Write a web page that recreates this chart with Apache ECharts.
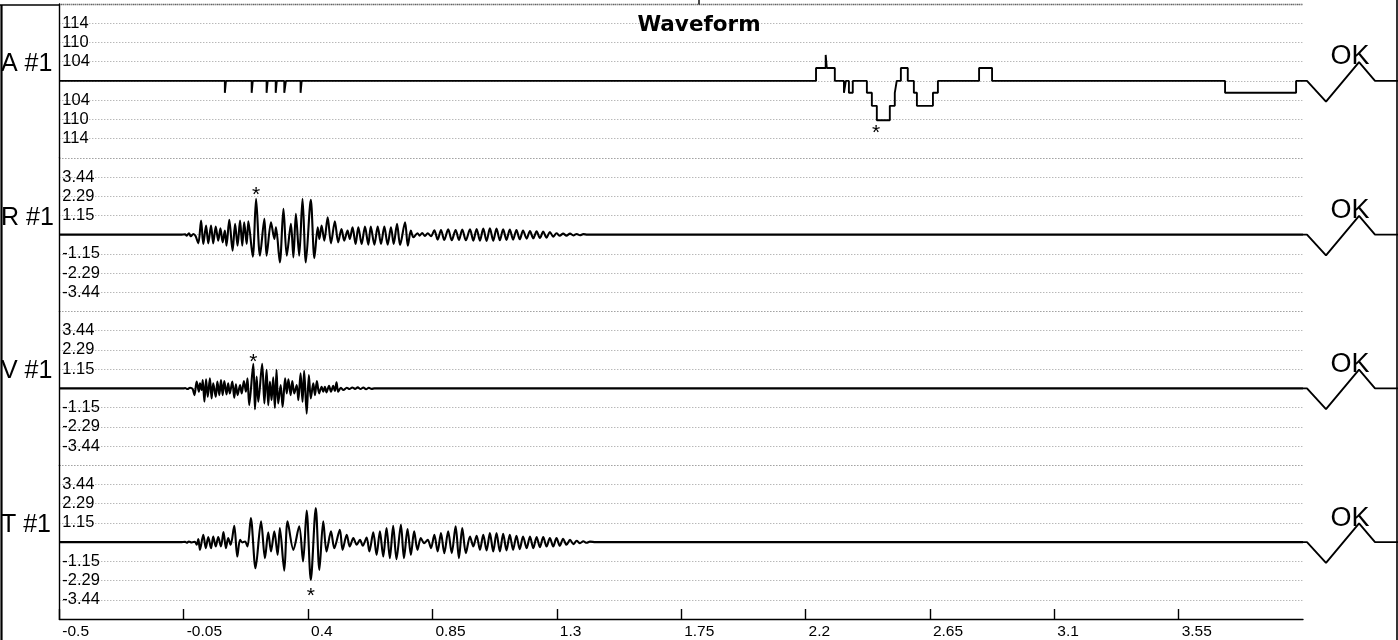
<!DOCTYPE html>
<html><head><meta charset="utf-8">
<script src="https://cdn.jsdelivr.net/npm/echarts@6/dist/echarts.min.js"></script>
<style>html,body{margin:0;padding:0;background:#fff}#c{width:1398px;height:640px}</style>
</head><body><div id="c"></div>
<script>
// ---------- data ----------
const channelNames = ['A #1', 'R #1', 'V #1', 'T #1'];
const statusText = ['OK', 'OK', 'OK', 'OK'];
const aTickLabels = ['', '114', '110', '104', '', '104', '110', '114', ''];
const rvtTickLabels = ['', '3.44', '2.29', '1.15', '', '-1.15', '-2.29', '-3.44', ''];
const rvtUnit = 1.147;
const xTickValues = [-0.5, -0.05, 0.4, 0.85, 1.3, 1.75, 2.2, 2.65, 3.1, 3.55];
const xTickLabels = ['-0.5', '-0.05', '0.4', '0.85', '1.3', '1.75', '2.2', '2.65', '3.1', '3.55'];

// A channel: [time, level in grid steps] (value held until next point)
const aLevels = [
  [-0.5,0],[0.099,-0.62],[0.103,0],[0.196,-0.62],[0.200,0],[0.250,-0.62],[0.254,0],[0.283,-0.62],[0.287,0],
  [0.314,-0.62],[0.320,0],[0.373,-0.62],[0.377,0],
  [2.238,0.67],[2.273,1.35],[2.277,0.67],[2.306,0],[2.339,-0.62],[2.346,0],[2.357,-0.62],[2.371,0],
  [2.422,-0.62],[2.440,-1.3],[2.458,-2.05],[2.505,-1.3],[2.523,-0.62],[2.530,0],[2.545,0.67],[2.570,0],
  [2.592,-0.62],[2.603,-1.3],[2.661,-0.62],[2.679,0],[2.828,0.67],[2.875,0],[3.718,-0.62],[3.975,0],[4.0,0]
];

// R channel: [time, amplitude]
const rWave = [
  [-0.5,0],[-0.06,0],[-0.045,0.02],[-0.039,-0.06],[-0.031,0.08],[-0.024,-0.1],[-0.015,0.04],[-0.007,-0.08],
  [0.003,-0.52],[0.013,0.84],[0.021,-0.56],[0.031,0.54],[0.039,-0.52],[0.049,0.54],[0.057,-0.52],[0.066,0.48],
  [0.075,-0.36],[0.083,0.38],[0.091,-0.46],[0.099,0.24],[0.105,-0.66],[0.115,0.88],[0.127,-0.96],[0.136,0.64],
  [0.145,-0.66],[0.154,0.84],[0.162,-0.66],[0.169,0.74],[0.178,-0.56],[0.184,0.80],[0.200,-1.32],[0.212,2.14],
  [0.226,-1.26],[0.242,0.94],[0.250,-1.26],[0.266,0.74],[0.278,-0.26],[0.284,0.44],[0.298,-1.66],[0.311,1.54],
  [0.323,-1.26],[0.338,0.64],[0.347,-1.36],[0.356,1.24],[0.368,-1.26],[0.380,2.14],[0.392,-1.66],[0.410,2.08],
  [0.423,-1.40],[0.435,0.44],[0.441,-0.26],[0.449,0.54],[0.459,-0.36],[0.471,1.04],[0.483,-0.52],[0.497,0.80],
  [0.509,-0.46],[0.521,0.34],[0.531,-0.36],[0.543,0.24],[0.551,-0.26],[0.561,0.44],[0.572,-0.56],[0.582,0.44],
  [0.594,-0.56],[0.606,0.48],[0.618,-0.60],[0.627,0.48],[0.640,-0.60],[0.652,0.48],[0.664,-0.56],[0.676,0.48],
  [0.688,-0.60],[0.700,0.44],[0.710,-0.56],[0.722,0.64],[0.733,-0.62],[0.751,0.74],[0.761,-0.66],[0.772,0.24],
  [0.781,-0.16],[0.796,0.08],[0.804,-0.06],[0.813,0.1],[0.823,-0.08],[0.833,0.08],[0.845,-0.1],[0.857,0.26],
  [0.869,-0.3],[0.881,0.28],[0.893,-0.32],[0.907,0.32],[0.920,-0.34],[0.934,0.28],[0.946,-0.32],[0.958,0.3],
  [0.971,-0.34],[0.986,0.32],[0.998,-0.36],[1.010,0.34],[1.022,-0.36],[1.034,0.36],[1.046,-0.38],[1.058,0.38],
  [1.070,-0.36],[1.082,0.36],[1.094,-0.34],[1.106,0.32],[1.118,-0.32],[1.130,0.3],[1.142,-0.3],[1.154,0.28],
  [1.166,-0.28],[1.178,0.24],[1.191,-0.24],[1.203,0.22],[1.215,-0.22],[1.227,0.2],[1.239,-0.2],[1.251,0.18],
  [1.263,-0.18],[1.275,0.16],[1.287,-0.12],[1.299,0.08],[1.311,-0.06],[1.323,0.06],[1.335,-0.06],[1.348,0.06],
  [1.360,-0.05],[1.372,0.04],[1.384,-0.04],[1.396,0.03],[1.41,0],[4.0,0]
];

// V channel: [time, amplitude]
const vWave = [
  [-0.5,0],[-0.05,0],[-0.045,0.02],[-0.036,-0.04],[-0.027,0.04],[-0.018,-0.02],
  [-0.011,-0.40],[-0.003,0.40],[0.005,-0.20],[0.009,0.30],[0.015,-0.10],[0.019,0.50],[0.025,-0.80],[0.031,0.54],
  [0.037,-0.50],[0.045,0.60],[0.051,-0.60],[0.057,0.30],[0.066,-0.50],[0.072,0.40],[0.079,-0.40],[0.085,0.50],
  [0.091,-0.40],[0.097,0.44],[0.105,-0.36],[0.111,0.30],[0.117,-0.30],[0.126,0.40],[0.133,-0.56],[0.139,0.24],
  [0.145,-0.40],[0.154,0.20],[0.160,-0.30],[0.168,0.44],[0.175,-0.20],[0.181,0.60],[0.187,-1.00],[0.202,1.47],
  [0.208,-1.25],[0.214,0.70],[0.220,-0.80],[0.234,1.47],[0.242,-0.90],[0.250,1.11],[0.256,-1.00],[0.262,0.40],
  [0.268,-0.70],[0.274,0.66],[0.280,-1.17],[0.286,1.11],[0.292,-0.90],[0.301,0.20],[0.308,-1.11],[0.317,0.60],
  [0.323,-0.30],[0.329,0.54],[0.337,-0.40],[0.343,0.44],[0.350,-0.30],[0.359,0.20],[0.365,-0.70],[0.373,0.90],
  [0.380,-0.80],[0.386,1.05],[0.395,-1.51],[0.403,0.80],[0.410,-0.60],[0.419,0.30],[0.425,-0.40],[0.432,0.44],
  [0.440,-0.30],[0.449,0.10],[0.455,-0.20],[0.461,0.10],[0.467,-0.24],[0.476,0.16],[0.483,-0.20],[0.491,0.16],
  [0.497,-0.16],[0.503,0.36],[0.509,-0.20],[0.519,0.04],[0.528,-0.10],
  [0.54,0.04],[0.55,-0.04],[0.56,0.05],[0.57,-0.03],[0.58,0.06],[0.59,-0.04],[0.60,0.05],[0.61,-0.05],
  [0.62,0.04],[0.63,-0.03],[0.64,0],[4.0,0]
];

// T channel: [time, amplitude]
const tWave = [
  [-0.5,0],[-0.06,0],[-0.045,0.02],[-0.039,-0.04],[-0.031,0.04],[-0.021,-0.02],[-0.009,0.02],
  [-0.003,-0.16],[0.003,0.18],[0.009,-0.46],[0.021,0.44],[0.030,-0.36],[0.039,0.30],[0.049,-0.36],[0.057,0.34],
  [0.066,-0.26],[0.075,0.30],[0.085,-0.26],[0.094,0.60],[0.103,-0.36],[0.111,0.24],[0.120,-0.16],[0.133,0.98],
  [0.144,-0.86],[0.154,0.14],[0.162,-0.02],[0.172,0.04],[0.181,-0.26],[0.193,1.44],[0.210,-1.56],[0.230,1.24],
  [0.244,-0.96],[0.256,0.58],[0.266,-0.56],[0.278,0.64],[0.290,-0.76],[0.298,0.84],[0.314,-1.70],[0.326,1.24],
  [0.347,-0.46],[0.368,0.94],[0.382,-1.16],[0.395,1.88],[0.410,-2.26],[0.428,2.04],[0.441,-1.66],[0.455,1.24],
  [0.467,-0.56],[0.483,0.64],[0.495,-0.36],[0.515,0.74],[0.525,-0.46],[0.540,0.44],[0.551,-0.26],[0.564,0.24],
  [0.576,-0.16],[0.588,0.14],[0.598,-0.22],[0.612,0.28],[0.622,-0.56],[0.636,0.58],[0.648,-0.76],[0.660,0.64],
  [0.672,-0.86],[0.684,0.84],[0.696,-0.96],[0.708,0.98],[0.720,-1.02],[0.736,1.04],[0.747,-0.96],[0.760,0.78],
  [0.772,-0.76],[0.784,0.64],[0.796,-0.46],[0.808,0.24],[0.820,-0.06],[0.833,0.14],[0.845,-0.36],[0.857,0.44],
  [0.869,-0.56],[0.881,0.54],[0.893,-0.66],[0.907,0.64],[0.920,-0.66],[0.934,0.94],[0.946,-0.96],[0.958,0.84],
  [0.971,-0.66],[0.986,0.34],[0.998,-0.26],[1.010,0.38],[1.022,-0.46],[1.034,0.44],[1.046,-0.50],[1.058,0.54],
  [1.070,-0.56],[1.082,0.54],[1.094,-0.56],[1.106,0.50],[1.118,-0.50],[1.130,0.44],[1.142,-0.46],[1.154,0.38],
  [1.166,-0.42],[1.178,0.34],[1.191,-0.36],[1.203,0.34],[1.215,-0.36],[1.227,0.30],[1.239,-0.30],[1.251,0.30],
  [1.263,-0.26],[1.275,0.24],[1.287,-0.26],[1.299,0.24],[1.311,-0.22],[1.323,0.20],[1.335,-0.16],[1.348,0.14],
  [1.360,-0.12],[1.372,0.08],[1.384,-0.06],[1.396,0.05],[1.408,-0.04],[1.42,0.03],[1.44,0],[4.0,0]
];

// status trace drawn at the right of each channel: [fraction of box, level in grid steps]
const checkX = [0, 0.042, 0.242, 0.59, 0.758, 1];
const checkY = [0, 0, -1.08, 0.97, 0, 0];

// asterisk marks (peak of each channel)
const peakMarks = [[2.455, -2.05], [0.212, 2.14], [0.202, 1.47], [0.410, -2.26]];
const peakSide = ['bottom', 'top', 'top', 'bottom'];

// ---------- layout ----------
const W = 1398, L = 59.3, PR = 1303, TOP = 4, CH = 153.75;
const FONT = 'Liberation Sans, Arial, Helvetica, sans-serif';
const waves = [aLevels, rWave, vWave, tWave];
const units = [1, rvtUnit, rvtUnit, rvtUnit];
const tickLabelSets = [aTickLabels, rvtTickLabels, rvtTickLabels, rvtTickLabels];

const grid = [], xAxis = [], yAxis = [], series = [], graphic = [];
for (let i = 0; i < 4; i++) {
  grid.push({ left: L, width: PR - L, top: TOP + i * CH, height: CH });
}
for (let i = 0; i < 4; i++) {
  grid.push({ left: PR, width: W - PR, top: TOP + i * CH, height: CH });
}
for (let i = 0; i < 4; i++) {
  const bottom = i === 3;
  xAxis.push({
    type: 'value', gridIndex: i, min: -0.5, max: 4.0, interval: 0.45,
    show: bottom,
    axisLine: { show: bottom, onZero: false, lineStyle: { color: '#000', width: 1.4 } },
    axisTick: { show: bottom, inside: true, length: 10, customValues: xTickValues, lineStyle: { color: '#000', width: 1.4 } },
    axisLabel: {
      show: bottom, customValues: xTickValues, align: 'left', padding: [0, 0, 0, 3], margin: 5,
      fontSize: 15.5, fontFamily: FONT, color: '#000',
      formatter: v => { const k = xTickValues.findIndex(t => Math.abs(t - v) < 1e-6); return k >= 0 ? xTickLabels[k] : ''; }
    },
    splitLine: { show: false }
  });
}
for (let i = 0; i < 4; i++) {
  xAxis.push({ type: 'value', gridIndex: 4 + i, min: 0, max: 1, show: false });
}
for (let i = 0; i < 4; i++) {
  const u = units[i], labs = tickLabelSets[i];
  yAxis.push({
    type: 'value', gridIndex: i, min: -4 * u, max: 4 * u, interval: u,
    axisLine: { show: true, onZero: false, lineStyle: { color: '#000', width: 1.4 } },
    axisTick: { show: false },
    axisLabel: {
      inside: true, margin: 3, fontSize: 16.5, fontFamily: FONT, color: '#000',
      formatter: v => { const k = 4 - Math.round(v / u); return labs[k] || ''; }
    },
    splitLine: { show: true, lineStyle: { color: '#9a9a9a', type: [1, 2], width: 1 } }
  });
}
for (let i = 0; i < 4; i++) {
  yAxis.push({ type: 'value', gridIndex: 4 + i, min: -4, max: 4, show: false });
}

for (let i = 0; i < 4; i++) {
  series.push({
    type: 'line', xAxisIndex: i, yAxisIndex: i, data: waves[i],
    step: i === 0 ? 'end' : false, smooth: i === 0 ? false : 0.3, showSymbol: false, silent: true,
    lineStyle: { color: '#000', width: i === 0 ? 1.9 : 2.1 }
  });
  series.push({
    type: 'line', xAxisIndex: 4 + i, yAxisIndex: 4 + i,
    data: checkX.map((x, k) => [x, checkY[k]]), showSymbol: false, silent: true,
    lineStyle: { color: '#000', width: 1.9 }
  });
  series.push({
    type: 'scatter', xAxisIndex: 4 + i, yAxisIndex: 4 + i, data: [[0.495, 1.25]],
    symbolSize: 1, itemStyle: { color: 'rgba(0,0,0,0)', opacity: 1 }, silent: true, z: 1,
    label: { show: true, position: 'inside', formatter: statusText[i], fontSize: 27, fontFamily: FONT, color: '#000', opacity: 1, textBorderWidth: 0 }
  });
  series.push({
    type: 'scatter', xAxisIndex: i, yAxisIndex: i, data: [peakMarks[i]],
    symbolSize: 1, itemStyle: { color: 'rgba(0,0,0,0)', opacity: 1 }, silent: true,
    label: {
      show: true, position: 'inside', formatter: '*', fontSize: 21, fontFamily: FONT, color: '#000', opacity: 1, textBorderWidth: 0,
      offset: [0, peakSide[i] === 'top' ? (i === 2 ? -2 : -4) : (i === 0 ? 13 : 16)]
    }
  });
}

for (let i = 0; i < 4; i++) {
  graphic.push({
    type: 'text', x: 1, y: TOP + i * CH + CH / 2 - 17, silent: true,
    style: { text: channelNames[i], fontSize: 25, fontFamily: FONT, fill: '#000', verticalAlign: 'middle', align: 'left' }
  });
}
graphic.push({ type: 'line', silent: true, shape: { x1: 1.5, y1: 5, x2: 1.5, y2: 640 }, style: { stroke: '#000', lineWidth: 2.2 } });
graphic.push({ type: 'line', silent: true, shape: { x1: 0, y1: 5, x2: L, y2: 5 }, style: { stroke: '#000', lineWidth: 1.6 } });
graphic.push({ type: 'line', silent: true, shape: { x1: L, y1: 4.5, x2: PR, y2: 4.5 }, style: { stroke: '#222', lineWidth: 1.5, lineDash: [1, 1] } });
graphic.push({ type: 'line', silent: true, shape: { x1: 699, y1: 0, x2: 699, y2: 5 }, style: { stroke: '#000', lineWidth: 1.4 } });
graphic.push({ type: 'line', silent: true, shape: { x1: 1397, y1: 0, x2: 1397, y2: 640 }, style: { stroke: '#000', lineWidth: 1.6 } });

const chart = echarts.init(document.getElementById('c'), null, { renderer: 'canvas' });
chart.setOption({
  animation: false,
  backgroundColor: '#fff',
  title: {
    text: 'Waveform', left: 'center', top: 9,
    textStyle: { fontFamily: 'DejaVu Sans, Verdana, sans-serif', fontWeight: 'bold', fontSize: 21.5, color: '#000' }
  },
  grid, xAxis, yAxis, series, graphic
});
</script>
</body></html>
